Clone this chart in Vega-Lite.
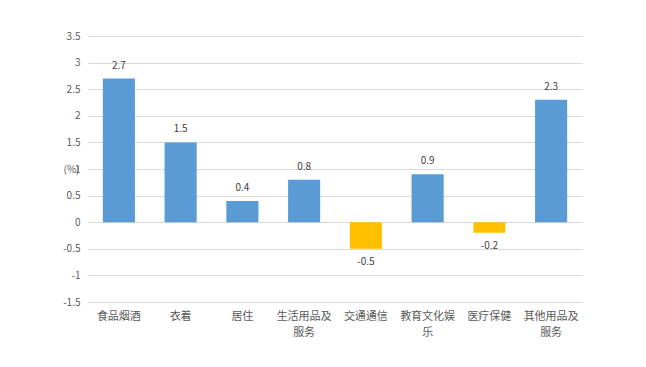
{
  "$schema": "https://vega.github.io/schema/vega-lite/v6.json",
  "width": 494,
  "height": 266,
  "autosize": {"type": "none"},
  "padding": {"left": 88, "top": 36, "right": 64, "bottom": 65},
  "background": "white",
  "config": {
    "view": {"stroke": null},
    "font": "Noto Sans CJK SC"
  },
  "data": {
    "values": [
      {"category": "食品烟酒", "value": 2.7},
      {"category": "衣着", "value": 1.5},
      {"category": "居住", "value": 0.4},
      {"category": "生活用品及服务", "value": 0.8},
      {"category": "交通通信", "value": -0.5},
      {"category": "教育文化娱乐", "value": 0.9},
      {"category": "医疗保健", "value": -0.2},
      {"category": "其他用品及服务", "value": 2.3}
    ]
  },
  "encoding": {
    "x": {
      "field": "category",
      "type": "nominal",
      "sort": null,
      "scale": {"paddingInner": 0.48, "paddingOuter": 0.24},
      "axis": {
        "title": null,
        "labelAngle": 0,
        "domain": false,
        "ticks": false,
        "labelPadding": 8,
        "labelFontSize": 11,
        "labelColor": "#595959",
        "labelLineHeight": 16,
        "labelExpr": "length(datum.label) > 5 ? [substring(datum.label,0,5), substring(datum.label,5)] : datum.label"
      }
    },
    "y": {
      "field": "value",
      "type": "quantitative",
      "scale": {"domain": [-1.5, 3.5], "nice": false, "zero": false},
      "axis": {
        "values": [-1.5, -1, -0.5, 0, 0.5, 1, 1.5, 2, 2.5, 3, 3.5],
        "labelExpr": "'' + datum.value",
        "domain": false,
        "ticks": false,
        "labelPadding": 8,
        "labelFontSize": 10,
        "labelColor": "#595959",
        "gridColor": "#D9D9D9",
        "gridWidth": 1,
        "title": "(%)",
        "titleAngle": 0,
        "titleX": -25,
        "titleY": 133,
        "titleAlign": "left",
        "titleBaseline": "middle",
        "titleFontSize": 10,
        "titleFontWeight": "normal",
        "titleColor": "#595959"
      }
    }
  },
  "layer": [
    {
      "mark": {"type": "bar"},
      "encoding": {
        "color": {
          "condition": {"test": "datum.value < 0", "value": "#FFC000"},
          "value": "#5B9BD5"
        }
      }
    },
    {
      "transform": [{"filter": "datum.value >= 0"}],
      "mark": {"type": "text", "fontSize": 10, "color": "#404040", "baseline": "middle", "dy": -13},
      "encoding": {
        "text": {"field": "value", "type": "nominal"}
      }
    },
    {
      "transform": [{"filter": "datum.value < 0"}],
      "mark": {"type": "text", "fontSize": 10, "color": "#404040", "baseline": "middle", "dy": 13},
      "encoding": {
        "text": {"field": "value", "type": "nominal"}
      }
    }
  ]
}
